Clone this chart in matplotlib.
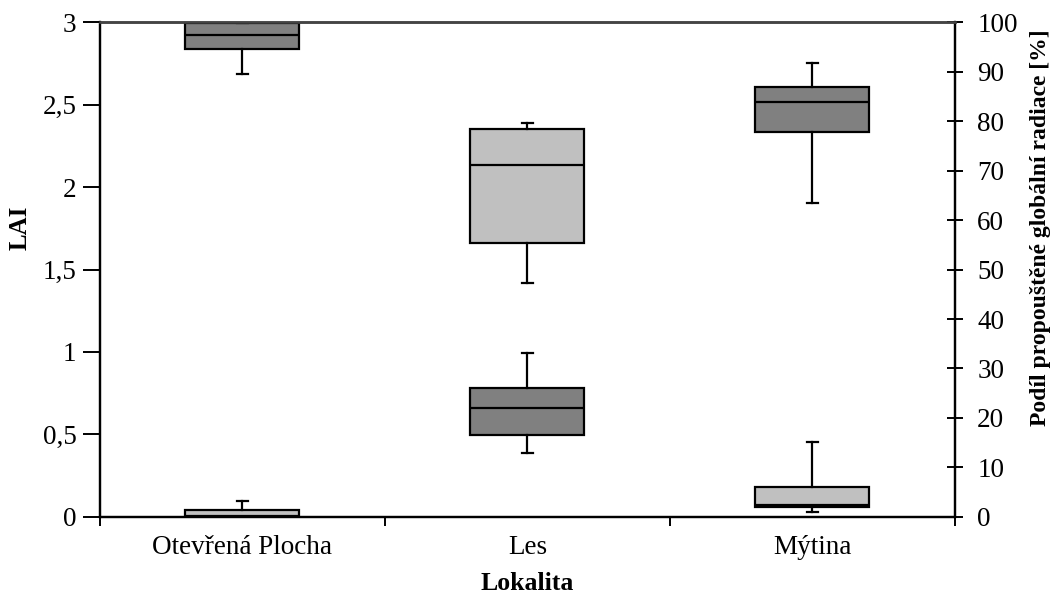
import matplotlib
matplotlib.use("Agg")
import matplotlib.pyplot as plt
from matplotlib.ticker import FuncFormatter

plt.rcParams['font.family'] = ['Liberation Serif', 'DejaVu Serif']

categories = ["Otevřená Plocha", "Les", "Mýtina"]

# LAI (left axis) box statistics
lai_whislo = [0.0, 1.416, 0.032]
lai_q1 = [0.0, 1.662, 0.059]
lai_med = [0.006, 2.133, 0.075]
lai_q3 = [0.042, 2.35, 0.18]
lai_whishi = [0.097, 2.386, 0.456]

# Transmitted global radiation [%] (right axis) box statistics
rad_whislo = [89.5, 12.9, 63.4]
rad_q1 = [94.5, 16.6, 77.8]
rad_med = [97.4, 22.1, 83.9]
rad_q3 = [99.8, 26.0, 86.8]
rad_whishi = [99.8, 33.1, 91.7]

lai_ticks = [0, 0.5, 1, 1.5, 2, 2.5, 3]
rad_ticks = [0, 10, 20, 30, 40, 50, 60, 70, 80, 90, 100]

FS = 19.5

fig = plt.figure(figsize=(10.57, 5.96), dpi=100)
ax = fig.add_axes([0.0946, 0.1326, 0.8089, 0.8304])
ax2 = ax.twinx()

positions = [0.5, 1.5, 2.5]

def stats(lo, q1, med, q3, hi):
    return [dict(whislo=a, q1=b, med=c, q3=d, whishi=e, fliers=[])
            for a, b, c, d, e in zip(lo, q1, med, q3, hi)]

common = dict(positions=positions, widths=0.40, patch_artist=True, showfliers=False,
              medianprops=dict(color='black', linewidth=1.6),
              whiskerprops=dict(color='black', linewidth=1.6),
              capprops=dict(color='black', linewidth=1.6),
              capwidths=0.04, manage_ticks=False)

ax.bxp(stats(lai_whislo, lai_q1, lai_med, lai_q3, lai_whishi),
       boxprops=dict(facecolor='#C0C0C0', edgecolor='black', linewidth=1.6), **common)
ax2.bxp(stats(rad_whislo, rad_q1, rad_med, rad_q3, rad_whishi),
        boxprops=dict(facecolor='#808080', edgecolor='black', linewidth=1.6), **common)

ax.set_xlim(0, 3)
ax.set_ylim(0, 3)
ax2.set_ylim(0, 100)
ax.set_xticks([0, 1, 2, 3])
ax.set_xticklabels([])
ax.set_xticks(positions, minor=True)
ax.set_xticklabels(categories, minor=True, fontsize=FS)
ax.tick_params(axis='x', which='minor', length=0, pad=13)
ax.tick_params(axis='x', which='major', length=6.5, width=1.4, direction='out')

ax.set_yticks(lai_ticks)
ax.yaxis.set_major_formatter(FuncFormatter(lambda v, p: f"{v:g}".replace('.', ',')))
ax.tick_params(axis='y', length=12, width=1.4, labelsize=FS, pad=5)
ax2.set_yticks(rad_ticks)
ax2.tick_params(axis='y', length=12, width=1.4, labelsize=FS, pad=10, direction='inout')

for a in (ax, ax2):
    for s in ('left', 'right', 'bottom'):
        a.spines[s].set_linewidth(1.6)
    a.spines['top'].set_linewidth(1.8)
    a.spines['top'].set_color('#444444')

ax.set_ylabel("LAI", fontsize=18, fontweight='bold')
ax.yaxis.set_label_coords(-0.0795, 0.585)
ax2.set_ylabel("Podíl propouštěné globální radiace [%]", fontsize=17, fontweight='bold')
ax2.yaxis.set_label_coords(1.0877, 0.585)
ax.set_xlabel("Lokalita", fontsize=18.5, fontweight='bold')
ax.xaxis.set_label_coords(0.5, -0.112)

fig.savefig("out.png", dpi=100)
